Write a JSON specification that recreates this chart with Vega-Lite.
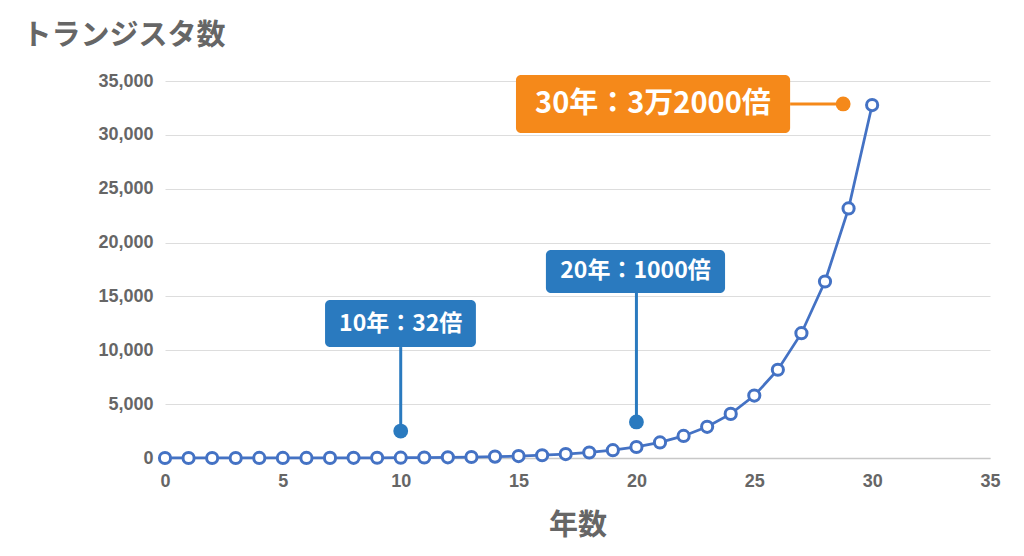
{
  "$schema": "https://vega.github.io/schema/vega-lite/v6.json",
  "width": 825,
  "height": 377,
  "autosize": {"type": "none"},
  "padding": {"left": 165, "top": 81, "right": 34, "bottom": 98},
  "background": "white",
  "config": {
    "view": {"stroke": null},
    "axis": {"labelFont": "Liberation Sans", "labelFontWeight": "bold", "labelColor": "#666666", "labelFontSize": 18, "titleFont": "Noto Sans CJK JP", "titleFontWeight": "bold", "titleColor": "#666666", "titleFontSize": 29}
  },
  "layer": [
    {
      "data": {"values": [
        {"year": 0, "count": 1}, {"year": 1, "count": 1.41}, {"year": 2, "count": 2}, {"year": 3, "count": 2.83},
        {"year": 4, "count": 4}, {"year": 5, "count": 5.66}, {"year": 6, "count": 8}, {"year": 7, "count": 11.3},
        {"year": 8, "count": 16}, {"year": 9, "count": 22.6}, {"year": 10, "count": 32}, {"year": 11, "count": 45.3},
        {"year": 12, "count": 64}, {"year": 13, "count": 90.5}, {"year": 14, "count": 128}, {"year": 15, "count": 181},
        {"year": 16, "count": 256}, {"year": 17, "count": 362}, {"year": 18, "count": 512}, {"year": 19, "count": 724},
        {"year": 20, "count": 1024}, {"year": 21, "count": 1448}, {"year": 22, "count": 2048}, {"year": 23, "count": 2896},
        {"year": 24, "count": 4096}, {"year": 25, "count": 5793}, {"year": 26, "count": 8192}, {"year": 27, "count": 11585},
        {"year": 28, "count": 16384}, {"year": 29, "count": 23170}, {"year": 30, "count": 32768}
      ]},
      "mark": {"type": "line", "color": "#4472c4", "strokeWidth": 2.75, "point": {"filled": true, "fill": "white", "stroke": "#4472c4", "strokeWidth": 3, "size": 125}},
      "encoding": {
        "x": {"field": "year", "type": "quantitative", "scale": {"domain": [0, 35], "nice": false}, "axis": {"values": [0, 5, 10, 15, 20, 25, 30, 35], "format": "d", "grid": false, "ticks": false, "domain": true, "domainColor": "#c8c8c8", "domainWidth": 1.5, "labelPadding": 14, "labelFlush": false, "title": "年数", "titleY": 67, "titleBaseline": "middle"}},
        "y": {"field": "count", "type": "quantitative", "scale": {"domain": [0, 35000], "nice": false}, "axis": {"values": [0, 5000, 10000, 15000, 20000, 25000, 30000, 35000], "format": ",d", "grid": true, "gridColor": "#dddddd", "gridWidth": 1.2, "ticks": false, "domain": false, "labelPadding": 12, "title": "トランジスタ数", "titleAngle": 0, "titleAlign": "left", "titleBaseline": "middle", "titleX": -143, "titleY": -46}}
      }
    },
    {
      "data": {"values": [
        {"kind": "blue", "x1": 6.79, "x2": 13.19, "y1": 10300, "y2": 14670},
        {"kind": "blue", "x1": 16.16, "x2": 23.76, "y1": 15320, "y2": 19310},
        {"kind": "orange", "x1": 14.89, "x2": 26.52, "y1": 30180, "y2": 35560}
      ]},
      "mark": {"type": "rect", "cornerRadius": 5},
      "encoding": {
        "x": {"field": "x1", "type": "quantitative"},
        "x2": {"field": "x2"},
        "y": {"field": "y1", "type": "quantitative"},
        "y2": {"field": "y2"},
        "color": {"field": "kind", "type": "nominal", "scale": {"domain": ["blue", "orange"], "range": ["#2a7abf", "#f5891a"]}, "legend": null}
      }
    },
    {
      "data": {"values": [
        {"kind": "blue", "x1": 10, "x2": 10, "y1": 2500, "y2": 10300},
        {"kind": "blue", "x1": 20, "x2": 20, "y1": 3350, "y2": 15320},
        {"kind": "orange", "x1": 26.52, "x2": 28.77, "y1": 32870, "y2": 32870}
      ]},
      "mark": {"type": "rule", "strokeWidth": 3},
      "encoding": {
        "x": {"field": "x1", "type": "quantitative"},
        "x2": {"field": "x2"},
        "y": {"field": "y1", "type": "quantitative"},
        "y2": {"field": "y2"},
        "color": {"field": "kind", "type": "nominal", "scale": {"domain": ["blue", "orange"], "range": ["#2a7abf", "#f5891a"]}, "legend": null}
      }
    },
    {
      "data": {"values": [
        {"kind": "blue", "x": 10, "y": 2500},
        {"kind": "blue", "x": 20, "y": 3350},
        {"kind": "orange", "x": 28.77, "y": 32870}
      ]},
      "mark": {"type": "circle", "size": 220, "opacity": 1},
      "encoding": {
        "x": {"field": "x", "type": "quantitative"},
        "y": {"field": "y", "type": "quantitative"},
        "color": {"field": "kind", "type": "nominal", "scale": {"domain": ["blue", "orange"], "range": ["#2a7abf", "#f5891a"]}, "legend": null}
      }
    },
    {
      "data": {"values": [
        {"label": "10年：32倍", "x": 10, "y": 12485},
        {"label": "20年：1000倍", "x": 19.96, "y": 17315}
      ]},
      "mark": {"type": "text", "font": "Noto Sans CJK JP", "fontWeight": "bold", "fontSize": 23, "color": "white", "align": "center", "baseline": "middle"},
      "encoding": {
        "x": {"field": "x", "type": "quantitative"},
        "y": {"field": "y", "type": "quantitative"},
        "text": {"field": "label"}
      }
    },
    {
      "data": {"values": [
        {"label": "30年：3万2000倍", "x": 20.7, "y": 32870}
      ]},
      "mark": {"type": "text", "font": "Noto Sans CJK JP", "fontWeight": "bold", "fontSize": 29, "color": "white", "align": "center", "baseline": "middle"},
      "encoding": {
        "x": {"field": "x", "type": "quantitative"},
        "y": {"field": "y", "type": "quantitative"},
        "text": {"field": "label"}
      }
    }
  ]
}
